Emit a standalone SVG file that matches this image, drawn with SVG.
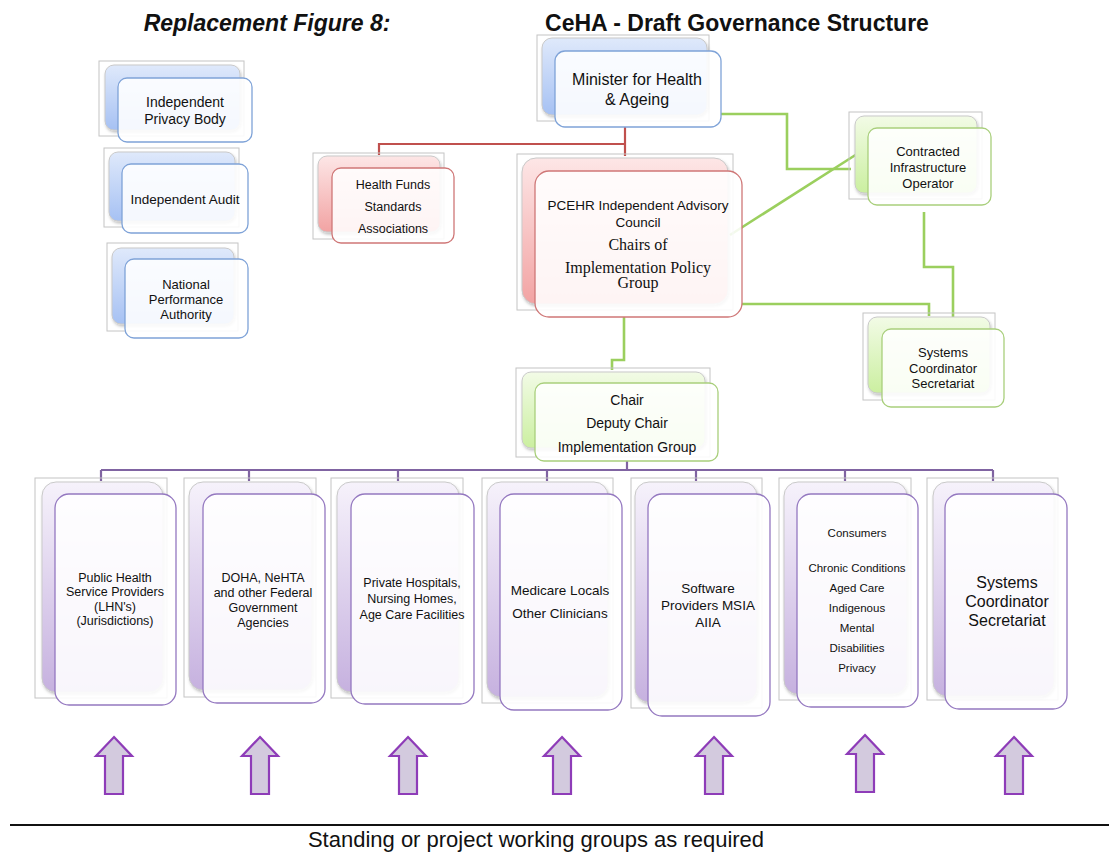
<svg xmlns="http://www.w3.org/2000/svg" width="1109" height="852" viewBox="0 0 1109 852">
<style>
.frame{fill:none;stroke:#c4c4c4;stroke-width:1}
.back{stroke:#c9c9c9;stroke-width:1;filter:url(#sh)}
.bB{fill:url(#gB)}.bR{fill:url(#gR)}.bG{fill:url(#gG)}.bP{fill:url(#gP)}
.front{fill:#ffffff;fill-opacity:0.88;stroke-width:1.3}
.fB{stroke:#7fa3d8}.fR{stroke:#cf7777}.fG{stroke:#a9cf7c}.fP{stroke:#9478c0}
text{font-family:"Liberation Sans",Arial,sans-serif;fill:#111;text-anchor:middle}
.ser{font-family:"Liberation Serif","Times New Roman",serif}
.red{fill:none;stroke:#c0504d;stroke-width:2.2}
.grn{fill:none;stroke:#9bcf5e;stroke-width:2.6}
.pur{fill:none;stroke:#8064a2;stroke-width:2.2}
.arrow{fill:#d3cade;stroke:#8e3cb8;stroke-width:2.2}
</style>
<defs>
<linearGradient id="gB" x1="0" y1="0" x2="0" y2="1"><stop offset="0" stop-color="#dfe9fb"/><stop offset="1" stop-color="#a6c1f3"/></linearGradient>
<linearGradient id="gR" x1="0" y1="0" x2="0" y2="1"><stop offset="0" stop-color="#fde6e6"/><stop offset="1" stop-color="#f2a3a3"/></linearGradient>
<linearGradient id="gG" x1="0" y1="0" x2="0" y2="1"><stop offset="0" stop-color="#f2fbe6"/><stop offset="1" stop-color="#cbefa0"/></linearGradient>
<linearGradient id="gP" x1="0" y1="0" x2="0" y2="1"><stop offset="0" stop-color="#f6f2fb"/><stop offset="1" stop-color="#c6b1df"/></linearGradient>
<filter id="sh" x="-10%" y="-10%" width="130%" height="130%"><feDropShadow dx="1" dy="2" stdDeviation="1.5" flood-color="#000" flood-opacity="0.25"/></filter>
</defs>
<rect width="1109" height="852" fill="#ffffff"/>

<g id="titles">
<text x="267" y="31" style="font-size:23px;font-weight:bold;font-style:italic">Replacement Figure 8:</text>
<text x="737" y="31" style="font-size:23px;font-weight:bold">CeHA - Draft Governance Structure</text>
</g>

<g id="connectors">
<path class="red" d="M625,127 V156 M625,144 H379 V155"/>
<path class="grn" d="M721,114 H787 V169 H851"/>
<path class="grn" d="M730,235 L857,154"/>
<path class="grn" d="M742,304 H929 V316"/>
<path class="grn" d="M924,212 V267 H953 V320"/>
<path class="grn" d="M624,317 V360 H612 V370"/>
<path class="pur" d="M627,461 V470 M101,470 H993 M101,470 V481 M249,470 V481 M398,470 V481 M547,470 V481 M696,470 V481 M845,470 V481 M993,470 V481"/>
</g>

<g id="n-privacy">
<rect class="frame" x="99" y="61" width="145" height="75"/>
<rect class="back bB" x="105" y="65" width="135" height="65" rx="9"/>
<rect class="front fB" x="118" y="78" width="134" height="64" rx="9"/>
<text x="185" y="107" style="font-size:14px">Independent</text>
<text x="185" y="124" style="font-size:14px">Privacy Body</text>
</g>

<g id="n-audit">
<rect class="frame" x="104" y="148" width="135" height="79"/>
<rect class="back bB" x="109" y="152" width="126" height="69" rx="9"/>
<rect class="front fB" x="122" y="164" width="126" height="69" rx="9"/>
<text x="185" y="204" style="font-size:13.5px">Independent Audit</text>
</g>

<g id="n-npa">
<rect class="frame" x="107" y="243" width="131" height="88"/>
<rect class="back bB" x="112" y="248" width="122" height="76" rx="9"/>
<rect class="front fB" x="125" y="259" width="123" height="79" rx="9"/>
<text x="186" y="289" style="font-size:13px">National</text>
<text x="186" y="304" style="font-size:13px">Performance</text>
<text x="186" y="319" style="font-size:13px">Authority</text>
</g>

<g id="n-healthfunds">
<rect class="frame" x="313" y="153" width="131" height="86"/>
<rect class="back bR" x="318" y="156" width="122" height="76" rx="9"/>
<rect class="front fR" x="332" y="168" width="122" height="75" rx="9"/>
<text x="393" y="189" style="font-size:12.5px">Health Funds</text>
<text x="393" y="211" style="font-size:12.5px">Standards</text>
<text x="393" y="233" style="font-size:12.5px">Associations</text>
</g>

<g id="n-minister">
<rect class="frame" x="537" y="35" width="172" height="86"/>
<rect class="back bB" x="542" y="38" width="165" height="77" rx="10"/>
<rect class="front fB" x="555" y="51" width="166" height="76" rx="10"/>
<text x="637" y="85" style="font-size:16px">Minister for Health</text>
<text x="637" y="105" style="font-size:16px">&amp; Ageing</text>
</g>

<g id="n-pcehr">
<rect class="frame" x="517" y="154" width="216" height="156"/>
<rect class="back bR" x="522" y="158" width="206" height="146" rx="14"/>
<rect class="front fR" x="535" y="171" width="207" height="146" rx="14"/>
<text x="638" y="210" style="font-size:13.5px">PCEHR Independent Advisory</text>
<text x="638" y="227" style="font-size:13.5px">Council</text>
<text class="ser" x="638" y="250" style="font-size:16px">Chairs of</text>
<text class="ser" x="638" y="273" style="font-size:16px">Implementation Policy</text>
<text class="ser" x="638" y="288" style="font-size:16px">Group</text>
</g>

<g id="n-contracted">
<rect class="frame" x="849" y="112" width="133" height="87"/>
<rect class="back bG" x="855" y="116" width="122" height="77" rx="9"/>
<rect class="front fG" x="868" y="128" width="123" height="77" rx="9"/>
<text x="928" y="156" style="font-size:13px">Contracted</text>
<text x="928" y="172" style="font-size:13px">Infrastructure</text>
<text x="928" y="188" style="font-size:13px">Operator</text>
</g>

<g id="n-syscoord-top">
<rect class="frame" x="863" y="313" width="132" height="87"/>
<rect class="back bG" x="868" y="317" width="122" height="76" rx="9"/>
<rect class="front fG" x="882" y="329" width="122" height="78" rx="9"/>
<text x="943" y="357" style="font-size:13px">Systems</text>
<text x="943" y="373" style="font-size:13px">Coordinator</text>
<text x="943" y="388" style="font-size:13px">Secretariat</text>
</g>

<g id="n-chair">
<rect class="frame" x="516" y="368" width="194" height="89"/>
<rect class="back bG" x="522" y="372" width="183" height="76" rx="9"/>
<rect class="front fG" x="535" y="383" width="183" height="78" rx="9"/>
<text x="627" y="405" style="font-size:14px">Chair</text>
<text x="627" y="428" style="font-size:14px">Deputy Chair</text>
<text x="627" y="452" style="font-size:14px">Implementation Group</text>
</g>

<g id="n-public">
<rect class="frame" x="35" y="478" width="132" height="220"/>
<rect class="back bP" x="42" y="482" width="121" height="210" rx="14"/>
<rect class="front fP" x="55" y="494" width="121" height="211" rx="14"/>
<text x="115" y="582" style="font-size:12.5px">Public Health</text>
<text x="115" y="596" style="font-size:12.5px">Service Providers</text>
<text x="115" y="611" style="font-size:12.5px">(LHN's)</text>
<text x="115" y="625" style="font-size:12.5px">(Jurisdictions)</text>
</g>

<g id="n-doha">
<rect class="frame" x="184" y="478" width="132" height="219"/>
<rect class="back bP" x="189" y="482" width="123" height="208" rx="14"/>
<rect class="front fP" x="203" y="494" width="122" height="209" rx="14"/>
<text x="263" y="582" style="font-size:12.5px">DOHA, NeHTA</text>
<text x="263" y="597" style="font-size:12.5px">and other Federal</text>
<text x="263" y="612" style="font-size:12.5px">Government</text>
<text x="263" y="627" style="font-size:12.5px">Agencies</text>
</g>

<g id="n-private">
<rect class="frame" x="331" y="478" width="132" height="220"/>
<rect class="back bP" x="337" y="482" width="122" height="210" rx="14"/>
<rect class="front fP" x="351" y="494" width="123" height="210" rx="14"/>
<text x="412" y="587" style="font-size:12.5px">Private Hospitals,</text>
<text x="412" y="603" style="font-size:12.5px">Nursing Homes,</text>
<text x="412" y="619" style="font-size:12.5px">Age Care Facilities</text>
</g>

<g id="n-medicare">
<rect class="frame" x="482" y="478" width="131" height="225"/>
<rect class="back bP" x="487" y="482" width="121" height="215" rx="14"/>
<rect class="front fP" x="500" y="494" width="122" height="216" rx="14"/>
<text x="560" y="595" style="font-size:13.5px">Medicare Locals</text>
<text x="560" y="618" style="font-size:13.5px">Other Clinicians</text>
</g>

<g id="n-software">
<rect class="frame" x="631" y="478" width="131" height="230"/>
<rect class="back bP" x="635" y="482" width="122" height="220" rx="14"/>
<rect class="front fP" x="648" y="494" width="122" height="222" rx="14"/>
<text x="708" y="593" style="font-size:13.5px">Software</text>
<text x="708" y="610" style="font-size:13.5px">Providers MSIA</text>
<text x="708" y="627" style="font-size:13.5px">AIIA</text>
</g>

<g id="n-consumers">
<rect class="frame" x="779" y="478" width="132" height="222"/>
<rect class="back bP" x="784" y="482" width="123" height="212" rx="14"/>
<rect class="front fP" x="797" y="494" width="121" height="213" rx="14"/>
<text x="857" y="537" style="font-size:11.5px">Consumers</text>
<text x="857" y="572" style="font-size:11.5px">Chronic Conditions</text>
<text x="857" y="592" style="font-size:11.5px">Aged Care</text>
<text x="857" y="612" style="font-size:11.5px">Indigenous</text>
<text x="857" y="632" style="font-size:11.5px">Mental</text>
<text x="857" y="652" style="font-size:11.5px">Disabilities</text>
<text x="857" y="672" style="font-size:11.5px">Privacy</text>
</g>

<g id="n-syscoord-bottom">
<rect class="frame" x="927" y="478" width="131" height="222"/>
<rect class="back bP" x="933" y="482" width="121" height="214" rx="14"/>
<rect class="front fP" x="945" y="494" width="122" height="215" rx="14"/>
<text x="1007" y="588" style="font-size:16px">Systems</text>
<text x="1007" y="607" style="font-size:16px">Coordinator</text>
<text x="1007" y="626" style="font-size:16px">Secretariat</text>
</g>

<g id="arrows">
<path class="arrow" d="M114,737 L132,756 H123 V794 H105 V756 H96 Z"/>
<path class="arrow" d="M260,737 L278,756 H269 V794 H251 V756 H242 Z"/>
<path class="arrow" d="M408,737 L426,756 H417 V794 H399 V756 H390 Z"/>
<path class="arrow" d="M562,737 L580,756 H571 V794 H553 V756 H544 Z"/>
<path class="arrow" d="M714,737 L732,756 H723 V794 H705 V756 H696 Z"/>
<path class="arrow" d="M865,735 L883,754 H874 V792 H856 V754 H847 Z"/>
<path class="arrow" d="M1014,737 L1032,756 H1023 V794 H1005 V756 H996 Z"/>
</g>

<g id="footer">
<line x1="10" y1="825" x2="1109" y2="825" stroke="#111" stroke-width="2"/>
<text x="536" y="847" style="font-size:22px">Standing or project working groups as required</text>
</g>
</svg>
